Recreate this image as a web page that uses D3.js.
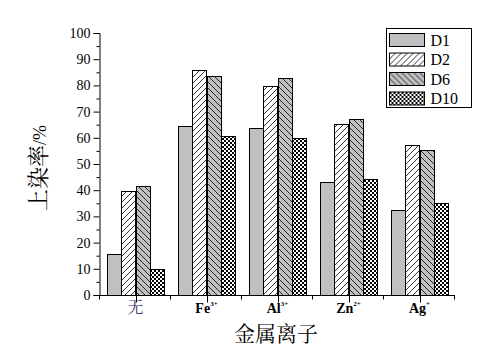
<!DOCTYPE html>
<html lang="zh">
<head>
<meta charset="UTF-8">
<title>上染率</title>
<script src="https://d3js.org/d3.v7.min.js"></script>
<style>
  body { margin: 0; background: #fff; }
  svg text { font-family: "Liberation Serif", "Times New Roman", Times, serif; }
</style>
</head>
<body>
<svg width="504" height="351"></svg>
<script>
    // data
    const categories = ["无", "Fe", "Al", "Zn", "Ag"];
    const charges = ["", "3+", "3+", "2+", "+"];
    const seriesNames = ["D1", "D2", "D6", "D10"];
    const D1 = [15.6, 64.4, 63.6, 43.0, 32.3];
    const D2 = [39.6, 85.8, 79.7, 65.1, 57.1];
    const D6 = [41.5, 83.6, 82.7, 67.0, 55.3];
    const D10 = [9.8, 60.6, 59.8, 44.1, 35.0];
    const yTicks = [0, 10, 20, 30, 40, 50, 60, 70, 80, 90, 100];

    const series = [D1, D2, D6, D10];
    const serif = '"Liberation Serif", "Times New Roman", Times, serif';
    const cjk = '"Noto Serif CJK SC", "Noto Sans CJK SC", serif';
    const svg = d3.select('svg');
    const margin = {top: 33, right: 49, bottom: 56, left: 100};
    const width = 504, height = 351;

    // patterns
    const defs = svg.append('defs');
    const p2 = defs.append('pattern').attr('id', 'p-d2')
        .attr('patternUnits', 'userSpaceOnUse').attr('width', 6).attr('height', 6);
    p2.append('rect').attr('width', 6).attr('height', 6).attr('fill', '#fff');
    p2.append('path').attr('d', 'M0,6 L6,0 M-1,1 L1,-1 M5,7 L7,5')
        .attr('stroke', '#000').attr('stroke-width', 0.8);
    const p6 = defs.append('pattern').attr('id', 'p-d6')
        .attr('patternUnits', 'userSpaceOnUse').attr('width', 6).attr('height', 6);
    p6.append('rect').attr('width', 6).attr('height', 6).attr('fill', '#c0c0c0');
    p6.append('path').attr('d', 'M0,0 L6,6 M-1,5 L1,7 M5,-1 L7,1')
        .attr('stroke', '#000').attr('stroke-width', 0.8);
    const p10 = defs.append('pattern').attr('id', 'p-d10')
        .attr('patternUnits', 'userSpaceOnUse').attr('width', 4).attr('height', 4);
    p10.append('rect').attr('width', 4).attr('height', 4).attr('fill', '#fff');
    p10.append('rect').attr('x', 0).attr('y', 0).attr('width', 2).attr('height', 2).attr('fill', '#000');
    p10.append('rect').attr('x', 2).attr('y', 2).attr('width', 2).attr('height', 2).attr('fill', '#000');
    const fills = ['#c0c0c0', 'url(#p-d2)', 'url(#p-d6)', 'url(#p-d10)'];

    const x = d3.scaleBand()
        .domain(categories)
        .range([margin.left, width - margin.right])
        .paddingInner(0.21)
        .paddingOuter(0.105);
    const xBand = d3.scaleBand()
        .domain(seriesNames)
        .range([0, x.bandwidth()]);
    const y = d3.scaleLinear()
        .domain([0, 100])
        .range([height - margin.bottom, margin.top]);

    // bars
    seriesNames.forEach(function(name, si) {
        svg.append('g').selectAll('rect')
            .data(series[si]).enter()
            .append('rect')
            .attr('x', (d, i) => Math.round(x(categories[i]) + xBand(name)) + 0.5)
            .attr('y', d => Math.round(y(d)) + 0.5)
            .attr('width', Math.round(xBand.bandwidth()))
            .attr('height', d => Math.round(y(0)) - Math.round(y(d)))
            .attr('fill', fills[si])
            .attr('stroke', '#000')
            .attr('stroke-width', 1);
    });

    // y axis
    const yAxis = svg.append('g')
        .attr('transform', `translate(${margin.left - 0.5},0)`)
        .call(d3.axisLeft(y).tickValues(yTicks).tickSize(6).tickPadding(3));
    yAxis.attr('font-family', null);
    yAxis.select('.domain').attr('stroke', '#000');
    yAxis.selectAll('text').attr('font-size', 14).attr('fill', '#000')
        .style('font-family', serif);
    svg.append('g')
        .attr('transform', `translate(${margin.left - 0.5},0)`)
        .call(d3.axisLeft(y).tickValues(d3.range(5, 100, 10)).tickSize(3).tickFormat(''))
        .select('.domain').remove();

    // x axis
    const x0 = y(0) + 0.5;
    const xg = svg.append('g');
    xg.append('line')
        .attr('x1', margin.left - 0.5).attr('x2', width - margin.right)
        .attr('y1', x0).attr('y2', x0).attr('stroke', '#000');
    const bounds = d3.range(categories.length + 1).map(i => margin.left + i * (width - margin.left - margin.right) / categories.length);
    xg.selectAll('.bt').data(bounds).enter().append('line')
        .attr('x1', d => Math.round(d) - 0.5).attr('x2', d => Math.round(d) - 0.5)
        .attr('y1', x0).attr('y2', x0 + 4).attr('stroke', '#000');
    xg.selectAll('.ct').data(categories).enter().append('line')
        .attr('x1', d => Math.round(x(d) + x.bandwidth() / 2) + 0.5)
        .attr('x2', d => Math.round(x(d) + x.bandwidth() / 2) + 0.5)
        .attr('y1', x0 - 6).attr('y2', x0 + 7).attr('stroke', '#000');

    const labels = xg.selectAll('.xl').data(categories).enter().append('text')
        .attr('x', d => x(d) + x.bandwidth() / 2)
        .attr('y', 313)
        .attr('text-anchor', 'middle')
        .attr('font-size', 14)
        .attr('font-weight', 'bold')
        .attr('fill', '#000')
        .style('font-family', serif);
    labels.each(function(d, i) {
        const t = d3.select(this);
        if (i === 0) {
            t.attr('font-weight', 'normal').attr('fill', '#34346e')
                .style('font-family', cjk)
                .attr('font-size', 16).text(d);
        } else {
            t.append('tspan').text(d);
            t.append('tspan').attr('dy', -7).attr('font-size', 7).text(charges[i]);
        }
    });

    // axis titles
    svg.append('text')
        .attr('transform', `translate(46,${y(50) + 4}) rotate(-90)`)
        .attr('text-anchor', 'middle')
        .attr('font-size', 22)
        .attr('fill', '#000')
        .style('font-family', cjk)
        .text('上染率')
        .append('tspan').attr('font-size', 18)
        .style('font-family', serif).text('/%');
    svg.append('text')
        .attr('x', 276)
        .attr('y', 341)
        .attr('text-anchor', 'middle')
        .attr('font-size', 21)
        .attr('fill', '#000')
        .style('font-family', cjk)
        .text('金属离子');

    // legend
    const lg = svg.append('g').attr('transform', 'translate(386.5,28.5)');
    lg.append('rect').attr('width', 85).attr('height', 79)
        .attr('fill', '#fff').attr('stroke', '#000');
    const items = lg.selectAll('.li').data(seriesNames).enter().append('g')
        .attr('transform', (d, i) => `translate(3,${5 + i * 19.5})`);
    items.append('rect').attr('width', 35).attr('height', 13)
        .attr('fill', (d, i) => fills[i]).attr('stroke', '#000');
    items.append('text').attr('x', 41).attr('y', 12)
        .attr('font-size', 16).attr('fill', '#000')
        .style('font-family', serif).text(d => d);
</script>
</body>
</html>
